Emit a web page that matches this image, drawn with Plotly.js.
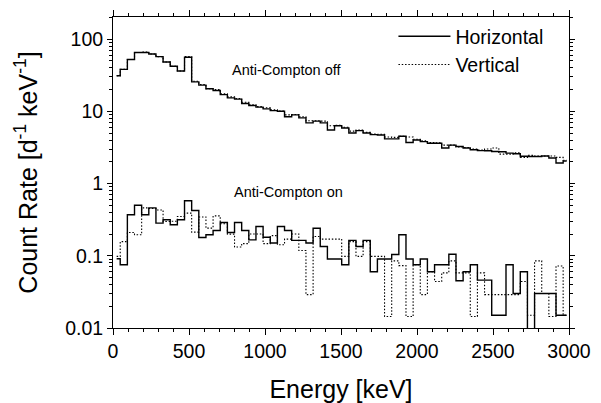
<!DOCTYPE html>
<html>
<head>
<meta charset="utf-8">
<script src="https://cdn.plot.ly/plotly-3.0.1.min.js"></script>
<style>html,body{margin:0;padding:0;background:#fff;}#chart{width:601px;height:403px;}</style>
</head>
<body>
<div id="chart"></div>
<script>
// Bin centres (keV)
var energy = [24, 71, 118, 165, 212, 259, 306, 353, 400, 447, 494, 541, 588, 635, 682, 729,
  776, 823, 870, 917, 964, 1011, 1058, 1105, 1152, 1199, 1246, 1293, 1340, 1387, 1434, 1481,
  1528, 1575, 1622, 1669, 1716, 1763, 1810, 1857, 1904, 1951, 1998, 2045, 2092, 2139, 2186, 2233,
  2280, 2327, 2374, 2421, 2468, 2515, 2562, 2609, 2656, 2703, 2750, 2797, 2844, 2891, 2938, 2985];

// Anti-Compton off
var horizontalOff = [31, 38, 52, 65, 65, 62, 57, 48, 42, 36, 56, 25.5, 23, 20.5, 19.4, 17, 15.3, 14.7,
  12.8, 12, 11.4, 10.8, 10.2, 10.0, 8.4, 8.9, 8.1, 6.9, 7.3, 6.9, 5.5, 6.3, 5.85, 5.0, 5.4, 5.0, 4.75,
  4.7, 4.15, 4.15, 4.5, 3.7, 4.0, 3.8, 3.6, 3.6, 3.1, 3.4, 3.25, 3.1, 2.93, 2.85, 2.84, 2.77, 2.75,
  2.63, 2.58, 2.38, 2.36, 2.36, 2.4, 2.25, 1.92, 2.05];
var verticalOff = [31, 38, 52, 65, 66, 62, 57, 48, 42, 36, 57, 26, 23.5, 20.5, 20, 17.5, 15.8, 15,
  13.3, 12.3, 11.6, 11.2, 10.5, 10.1, 8.9, 9.0, 8.4, 7.4, 7.4, 7.3, 6.3, 6.4, 6.0, 5.3, 5.5, 5.1, 4.85,
  4.8, 4.4, 4.35, 4.5, 4.4, 4.1, 3.9, 3.7, 3.65, 3.4, 3.4, 3.2, 3.15, 3.0, 2.9, 3.0, 3.1, 2.55, 2.55,
  2.65, 2.3, 2.45, 2.4, 2.4, 2.4, 2.3, 2.1];

// Anti-Compton on
var horizontalOn = [0.091, 0.075, 0.37, 0.50, 0.37, 0.46, 0.283, 0.315, 0.268, 0.315, 0.576, 0.423,
  0.179, 0.195, 0.224, 0.289, 0.21, 0.289, 0.224, 0.166, 0.254, 0.18, 0.15, 0.254, 0.224, 0.163, 0.163,
  0.15, 0.24, 0.134, 0.09, 0.09, 0.075, 0.163, 0.134, 0.163, 0.06, 0.09, 0.09, 0.104, 0.195, 0.09,
  0.075, 0.09, 0.06, 0.075, 0.075, 0.105, 0.045, 0.06, 0.075, 0.046, 0.046, 0.015, 0.015, 0.075, 0.03,
  0.06, 0.0001, 0.03, 0.03, 0.03, 0.015, 0.015];
var verticalOn = [0.098, 0.157, 0.21, 0.195, 0.46, 0.45, 0.43, 0.298, 0.30, 0.349, 0.389, 0.212,
  0.344, 0.241, 0.356, 0.277, 0.199, 0.132, 0.147, 0.2, 0.2, 0.147, 0.19, 0.142, 0.17, 0.2, 0.118,
  0.029, 0.185, 0.17, 0.17, 0.17, 0.098, 0.157, 0.098, 0.157, 0.098, 0.098, 0.0144, 0.085, 0.073,
  0.0144, 0.075, 0.029, 0.06, 0.044, 0.058, 0.085, 0.058, 0.058, 0.0144, 0.058, 0.029, 0.029, 0.029,
  0.029, 0.029, 0.044, 0.015, 0.085, 0.03, 0.0144, 0.072, 0.015];

var yTickVals = [0.01, 0.1, 1, 10, 100];
var yTickText = ['0.01', '0.1', '1', '10', '100'];
var xTickVals = [0, 500, 1000, 1500, 2000, 2500, 3000];
var seriesNames = ['Horizontal', 'Vertical'];
var labels = ['Anti-Compton off', 'Anti-Compton on'];

var yMinor = [];
for (var e = -2; e <= 2; e++) {
  for (var m = 2; m <= 9; m++) yMinor.push(m * Math.pow(10, e));
}

var solid = {color: 'black', width: 1.4, shape: 'hvh'};
var dotted = {color: 'black', width: 1.1, shape: 'hvh', dash: '1.5px,1.8px'};

var traces = [
  {x: energy, y: horizontalOff, type: 'scatter', mode: 'lines', name: seriesNames[0], line: solid, showlegend: true},
  {x: energy, y: verticalOff, type: 'scatter', mode: 'lines', name: seriesNames[1], line: dotted, showlegend: true},
  {x: energy, y: horizontalOn, type: 'scatter', mode: 'lines', name: seriesNames[0], line: solid, showlegend: false},
  {x: energy, y: verticalOn, type: 'scatter', mode: 'lines', name: seriesNames[1], line: dotted, showlegend: false}
];

var FONT = 'Liberation Sans, Arial, Helvetica, sans-serif';

var layout = {
  width: 601, height: 403,
  margin: {l: 113, r: 32, t: 17, b: 75, pad: 0},
  paper_bgcolor: 'white', plot_bgcolor: 'white',
  font: {family: FONT, color: 'black', size: 19.5},
  showlegend: true,
  legend: {
    x: 0.615, y: 1.0, xanchor: 'left', yanchor: 'top',
    bgcolor: 'rgba(0,0,0,0)', borderwidth: 0,
    font: {family: FONT, size: 19.5, color: 'black'},
    itemwidth: 52, tracegroupgap: 0
  },
  xaxis: {
    range: [0, 3000], tickmode: 'array', tickvals: xTickVals,
    ticks: 'outside', ticklen: 6, tickwidth: 1, tickcolor: 'black',
    showline: true, linecolor: 'black', linewidth: 1, mirror: 'ticks',
    showgrid: false, zeroline: false,
    tickfont: {family: FONT, size: 19.5, color: 'black'},
    minor: {dtick: 100, tick0: 0, ticks: 'outside', ticklen: 3, tickwidth: 1, tickcolor: 'black', showgrid: false},
    title: {text: 'Energy [keV]', font: {family: FONT, size: 25, color: 'black'}, standoff: 19},
    automargin: false
  },
  yaxis: {
    type: 'log', range: [-2, 2.3045], tickmode: 'array', tickvals: yTickVals, ticktext: yTickText,
    ticks: 'outside', ticklen: 5, tickwidth: 1, tickcolor: 'black',
    showline: true, linecolor: 'black', linewidth: 1, mirror: 'ticks',
    showgrid: false, zeroline: false,
    tickfont: {family: FONT, size: 19.5, color: 'black'},
    minor: {tickmode: 'array', tickvals: yMinor, ticks: 'outside', ticklen: 3, tickwidth: 1, tickcolor: 'black', showgrid: false},
    title: {text: 'Count Rate [d<sup>-1</sup> keV<sup>-1</sup>]', font: {family: FONT, size: 25, color: 'black'}, standoff: 20},
    automargin: false
  },
  annotations: [
    {x: 771, y: Math.log10(37.5), xref: 'x', yref: 'y', text: labels[0], showarrow: false,
     xanchor: 'left', yanchor: 'middle', font: {family: FONT, size: 14.5, color: 'black'}},
    {x: 784, y: Math.log10(0.775), xref: 'x', yref: 'y', text: labels[1], showarrow: false,
     xanchor: 'left', yanchor: 'middle', font: {family: FONT, size: 14.5, color: 'black'}}
  ]
};

Plotly.newPlot('chart', traces, layout, {staticPlot: true, displayModeBar: false});
</script>
</body>
</html>
